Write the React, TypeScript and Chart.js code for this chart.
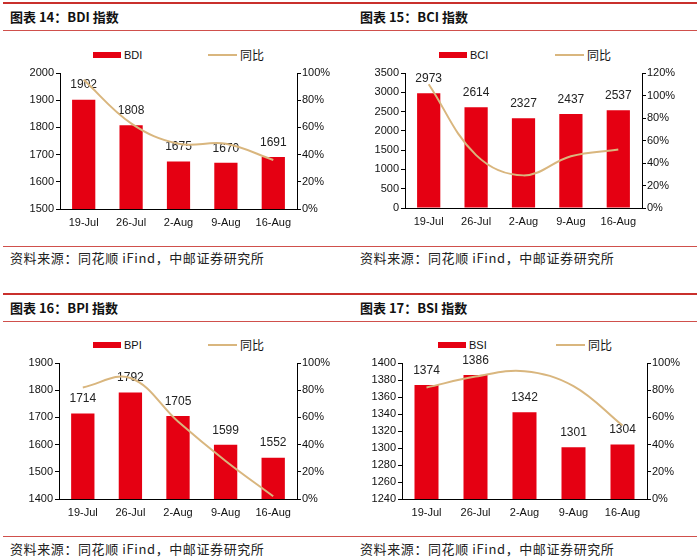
import React, { useEffect, useRef } from 'react';
import { Chart, registerables } from 'chart.js';

Chart.register(...registerables);

const categories = ['19-Jul', '26-Jul', '2-Aug', '9-Aug', '16-Aug'];

const bdiValues = [1902, 1808, 1675, 1670, 1691];
const bdiYoY = [95, 63, 48, 48, 36];

const bciValues = [2973, 2614, 2327, 2437, 2537];
const bciYoY = [110, 47, 29, 46, 52];

const bpiValues = [1714, 1792, 1705, 1599, 1552];
const bpiYoY = [82, 89, 57, 28, 2];

const bsiValues = [1374, 1386, 1342, 1301, 1304];
const bsiYoY = [82, 90, 94, 83, 54];

const BAR_COLOR = '#E50012';
const LINE_COLOR = '#D9B67E';
const RED_RULE = '#C9302C';
const TICK_FONT = '"Liberation Sans", Arial, sans-serif';
const CJK_FONT = '"Noto Sans CJK SC", "Noto Sans", sans-serif';

type PanelCfg = {
  title: string;
  name: string;
  values: number[];
  yoy: number[];
  x0: number;
  yOff: number;
  plotTop: number;
  plotBottom: number;
  leftAxis: number;
  rightAxis: number;
  yMin: number;
  yMax: number;
  yStep: number;
  y1Max: number;
  legendBox: number;
  legendLine: number;
};

const panels: PanelCfg[] = [
  { title: '图表 14：BDI 指数', name: 'BDI', values: bdiValues, yoy: bdiYoY, x0: 0, yOff: 0, plotTop: 72.7, plotBottom: 208.3, leftAxis: 60, rightAxis: 297, yMin: 1500, yMax: 2000, yStep: 100, y1Max: 100, legendBox: 93, legendLine: 208 },
  { title: '图表 15：BCI 指数', name: 'BCI', values: bciValues, yoy: bciYoY, x0: 350, yOff: 0, plotTop: 73.3, plotBottom: 208.3, leftAxis: 55, rightAxis: 292, yMin: 0, yMax: 3500, yStep: 500, y1Max: 120, legendBox: 89, legendLine: 205 },
  { title: '图表 16：BPI 指数', name: 'BPI', values: bpiValues, yoy: bpiYoY, x0: 0, yOff: 290.5, plotTop: 72.8, plotBottom: 208.5, leftAxis: 59, rightAxis: 297, yMin: 1400, yMax: 1900, yStep: 100, y1Max: 100, legendBox: 93, legendLine: 208 },
  { title: '图表 17：BSI 指数', name: 'BSI', values: bsiValues, yoy: bsiYoY, x0: 350, yOff: 290.5, plotTop: 72.8, plotBottom: 208.5, leftAxis: 52, rightAxis: 297, yMin: 1240, yMax: 1400, yStep: 20, y1Max: 100, legendBox: 88, legendLine: 206 },
];

const barLabelPlugin = {
  id: 'barLabels',
  beforeDatasetsDraw(chart: any) {
    const meta = chart.getDatasetMeta(0);
    const data = chart.data.datasets[0].data as number[];
    const ctx = chart.ctx;
    ctx.save();
    ctx.font = `12px ${TICK_FONT}`;
    ctx.fillStyle = '#222';
    ctx.textAlign = 'center';
    ctx.textBaseline = 'middle';
    meta.data.forEach((el: any, i: number) => {
      ctx.fillText(String(data[i]), el.x, el.y - 14.5);
    });
    ctx.restore();
  },
};

const PAD_TOP = 15;
const X_AXIS_H = 27;

function Panel({ cfg }: { cfg: PanelCfg }) {
  const ref = useRef<HTMLCanvasElement>(null);
  const canvasTop = cfg.yOff + cfg.plotTop - PAD_TOP;
  const canvasH = Math.round(cfg.plotBottom - cfg.plotTop + PAD_TOP + X_AXIS_H);

  useEffect(() => {
    if (!ref.current) return;
    const chart = new Chart(ref.current, {
      type: 'bar',
      data: {
        labels: categories,
        datasets: [
          {
            type: 'bar',
            label: cfg.name,
            data: cfg.values,
            backgroundColor: BAR_COLOR,
            borderWidth: 0,
            barPercentage: 0.49,
            categoryPercentage: 1,
            yAxisID: 'y',
            order: 2,
          },
          {
            type: 'line',
            label: '同比',
            data: cfg.yoy,
            borderColor: LINE_COLOR,
            borderWidth: 2,
            pointRadius: 0,
            tension: 0.38,
            fill: false,
            yAxisID: 'y1',
            order: 1,
          } as any,
        ],
      },
      options: {
        responsive: false,
        animation: false,
        devicePixelRatio: 1,
        layout: { padding: { top: PAD_TOP, left: 0, right: 0, bottom: 0 } },
        plugins: { legend: { display: false }, tooltip: { enabled: false } },
        scales: {
          x: {
            offset: true,
            grid: { display: true, drawOnChartArea: false, drawTicks: false },
            border: { color: '#000', width: 1 },
            ticks: { color: '#111', font: { family: TICK_FONT, size: 11 }, padding: 7, maxRotation: 0 },
            afterFit: (s: any) => { s.height = X_AXIS_H; },
          },
          y: {
            position: 'left',
            min: cfg.yMin,
            max: cfg.yMax,
            grid: { display: true, drawOnChartArea: false, drawTicks: true, tickLength: 4, color: '#000' },
            border: { color: '#000', width: 1 },
            ticks: { stepSize: cfg.yStep, color: '#111', font: { family: TICK_FONT, size: 11 }, padding: 2, callback: (v: any) => String(v) },
            afterFit: (s: any) => { s.width = cfg.leftAxis; },
          },
          y1: {
            position: 'right',
            min: 0,
            max: cfg.y1Max,
            grid: { display: true, drawOnChartArea: false, drawTicks: true, tickLength: 4, color: '#000' },
            border: { color: '#000', width: 1 },
            ticks: { stepSize: 20, color: '#111', font: { family: TICK_FONT, size: 11 }, padding: 1, callback: (v: any) => `${v}%` },
            afterFit: (s: any) => { s.width = 350 - cfg.rightAxis; },
          },
        },
      },
      plugins: [barLabelPlugin],
    } as any);
    return () => chart.destroy();
  }, []);

  const legendY = cfg.yOff + 54.5;
  return (
    <>
      <div style={{ position: 'absolute', left: cfg.x0 + 10, top: cfg.yOff + 8, fontFamily: CJK_FONT, fontWeight: 700, fontSize: 13, lineHeight: '18px', color: '#111', whiteSpace: 'nowrap' }}>{cfg.title}</div>
      <div style={{ position: 'absolute', left: cfg.x0 + cfg.legendBox, top: legendY - 3, width: 28, height: 6, background: BAR_COLOR }} />
      <div style={{ position: 'absolute', left: cfg.x0 + cfg.legendBox + 31, top: legendY - 7, fontFamily: TICK_FONT, fontSize: 11, lineHeight: '14px', color: '#111' }}>{cfg.name}</div>
      <div style={{ position: 'absolute', left: cfg.x0 + cfg.legendLine, top: legendY - 1, width: 29, height: 2, background: LINE_COLOR }} />
      <div style={{ position: 'absolute', left: cfg.x0 + cfg.legendLine + 32, top: legendY - 8, fontFamily: CJK_FONT, fontSize: 12, lineHeight: '16px', color: '#111' }}>同比</div>
      <canvas ref={ref} width={350} height={canvasH} style={{ position: 'absolute', left: cfg.x0, top: canvasTop, width: 350, height: canvasH, display: 'block' }} />
      <div style={{ position: 'absolute', left: cfg.x0 + 10, top: cfg.yOff + 249, fontFamily: CJK_FONT, fontSize: 13, lineHeight: '18px', letterSpacing: '0.6px', color: '#222', whiteSpace: 'nowrap' }}>资料来源：同花顺 iFind，中邮证券研究所</div>
    </>
  );
}

export default function App() {
  const rule = (top: number, h: number, color: string) => (
    <div style={{ position: 'absolute', left: 3, top, width: 694, height: h, background: color }} />
  );
  return (
    <div style={{ position: 'absolute', left: 0, top: 0, width: 700, height: 560, background: '#fff', overflow: 'hidden' }}>
      {rule(2, 2, RED_RULE)}
      {rule(30, 1, '#D0504C')}
      {rule(246, 1, '#D0504C')}
      {rule(293, 2, RED_RULE)}
      {rule(321, 1, '#D0504C')}
      {rule(536, 1, '#D0504C')}
      {panels.map((p) => (
        <Panel key={p.name} cfg={p} />
      ))}
    </div>
  );
}
